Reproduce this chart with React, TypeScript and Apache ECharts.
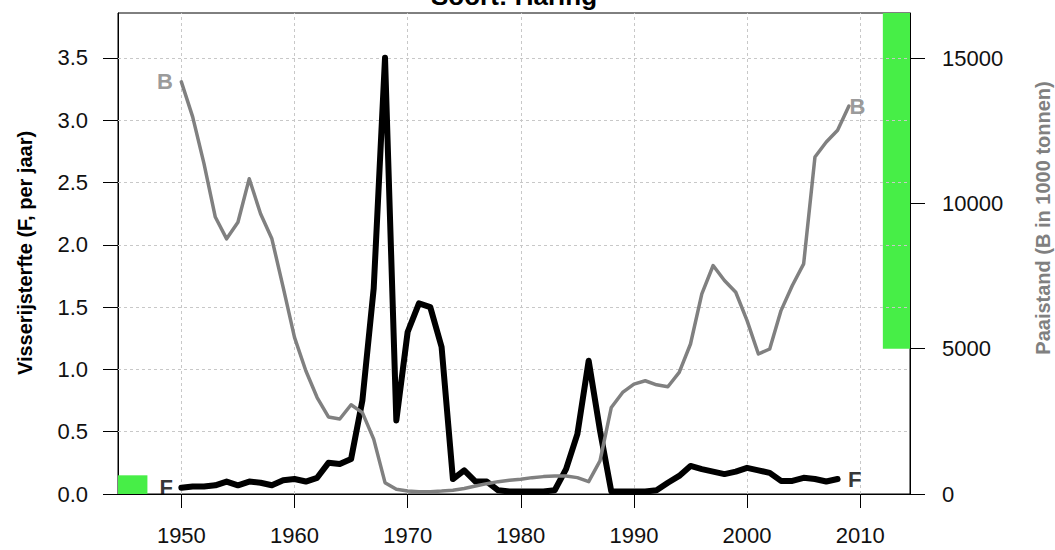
import React, { useEffect, useRef } from "react";
import * as echarts from "echarts";

const TITLE = "Soort: Haring";
const LEFT_NAME = "Visserijsterfte (F, per jaar)";
const RIGHT_NAME = "Paaistand (B in 1000 tonnen)";

const START_YEAR = 1950;

// Fishing mortality F (per year), 1950-2008
const fValues = [
  0.05, 0.06, 0.06, 0.07, 0.1, 0.07, 0.1, 0.09, 0.07, 0.11,
  0.12, 0.1, 0.13, 0.25, 0.24, 0.28, 0.75, 1.65, 3.5, 0.59,
  1.3, 1.53, 1.5, 1.18, 0.12, 0.19, 0.1, 0.1, 0.03, 0.02,
  0.02, 0.02, 0.02, 0.03, 0.2, 0.48, 1.07, 0.51, 0.02, 0.02,
  0.02, 0.02, 0.03, 0.09, 0.145, 0.225, 0.2, 0.18, 0.16, 0.18,
  0.21, 0.19, 0.17, 0.105, 0.105, 0.13, 0.12, 0.1, 0.12,
];

// Spawning stock biomass B (1000 t), 1950-2009
const bValues = [
  14180, 12975, 11370, 9530, 8780, 9350, 10850, 9640, 8780, 7110,
  5390, 4240, 3320, 2650, 2580, 3070, 2800, 1890, 390, 160,
  100, 80, 80, 100, 130, 190, 275, 356, 425, 471,
  506, 563, 598, 620, 620, 563, 425, 1138, 2977, 3494,
  3781, 3896, 3758, 3689, 4183, 5161, 6885, 7862, 7344, 6941,
  5965, 4817, 4989, 6310, 7172, 7920, 11595, 12113, 12516, 13350,
];

const xTicks = [1950, 1960, 1970, 1980, 1990, 2000, 2010];
const fTicks = [0, 0.5, 1, 1.5, 2, 2.5, 3, 3.5];
const bTicks = [0, 5000, 10000, 15000];

const X_MIN = 1944.4;
const X_MAX = 2014.4;
const F_MAX = 3.86;
const B_MAX = 16550;

const F_REF = 0.15;
const F_REF_X = [1944.4, 1947];
const B_REF = 5000;
const B_REF_X = [2012, 2014.4];

const FONT = "'Liberation Sans', Arial, sans-serif";

export default function App() {
  const ref = useRef<HTMLDivElement>(null);

  useEffect(() => {
    if (!ref.current) return;
    const chart = echarts.init(ref.current, null, { renderer: "svg" });

    const fData = fValues.map((v, i) => [START_YEAR + i, v]);
    const bData = bValues.map((v, i) => [START_YEAR + i, v]);
    const fLast = fData[fData.length - 1];
    const bLast = bData[bData.length - 1];

    const gridLines = [
      ...xTicks.map((x) => ({ xAxis: x })),
      ...fTicks.filter((v) => v > 0).map((v) => ({ yAxis: v })),
    ];

    const labelBase = {
      show: true,
      fontFamily: FONT,
      fontWeight: "bold" as const,
      fontSize: 22,
    };

    chart.setOption({
      animation: false,
      backgroundColor: "#fff",
      textStyle: { fontFamily: FONT },
      grid: {
        left: 118,
        top: 13,
        right: 145,
        bottom: 56,
        show: true,
        borderColor: "#000",
        borderWidth: 1,
        backgroundColor: "transparent",
      },
      graphic: [
        {
          type: "text",
          x: 514,
          y: -4,
          style: {
            text: TITLE,
            font: `bold 26px ${FONT}`,
            fill: "#000",
            align: "center",
            verticalAlign: "middle",
          },
        },
        {
          type: "text",
          x: 25,
          y: 253,
          rotation: Math.PI / 2,
          style: {
            text: LEFT_NAME,
            font: `bold 20px ${FONT}`,
            fill: "#000",
            align: "center",
            verticalAlign: "middle",
          },
        },
        {
          type: "text",
          x: 1043,
          y: 218,
          rotation: Math.PI / 2,
          style: {
            text: RIGHT_NAME,
            font: `bold 20px ${FONT}`,
            fill: "#808080",
            align: "center",
            verticalAlign: "middle",
          },
        },
      ],
      xAxis: {
        type: "value",
        min: X_MIN,
        max: X_MAX,
        axisLine: { show: true, onZero: false, lineStyle: { color: "#000", width: 1 } },
        axisTick: {
          show: true,
          length: 14,
          customValues: xTicks,
          lineStyle: { color: "#000", width: 1 },
        },
        axisLabel: {
          customValues: xTicks,
          margin: 30,
          fontSize: 22,
          color: "#111",
          fontFamily: FONT,
          formatter: (v: number) => String(v),
        },
        splitLine: { show: false },
      },
      yAxis: [
        {
          type: "value",
          min: 0,
          max: F_MAX,
          axisLine: { show: true, lineStyle: { color: "#000", width: 1 } },
          axisTick: {
            show: true,
            length: 15,
            customValues: fTicks,
            lineStyle: { color: "#000", width: 1 },
          },
          axisLabel: {
            customValues: fTicks,
            margin: 30,
            fontSize: 22,
            color: "#111",
            fontFamily: FONT,
            formatter: (v: number) => v.toFixed(1),
          },
          splitLine: { show: false },
        },
        {
          type: "value",
          min: 0,
          max: B_MAX,
          position: "right",
          axisLine: { show: true, lineStyle: { color: "#000", width: 1 } },
          axisTick: {
            show: true,
            length: 15,
            customValues: bTicks,
            lineStyle: { color: "#000", width: 1 },
          },
          axisLabel: {
            customValues: bTicks,
            margin: 32,
            fontSize: 22,
            color: "#111",
            fontFamily: FONT,
            formatter: (v: number) => String(v),
          },
          splitLine: { show: false },
        },
      ],
      series: [
        {
          type: "line",
          name: "F",
          yAxisIndex: 0,
          data: fData,
          showSymbol: false,
          symbol: "none",
          z: 3,
          lineStyle: { color: "#000", width: 6, join: "round", cap: "round" },
          markLine: {
            silent: true,
            z: 1,
            symbol: ["none", "none"],
            label: { show: false },
            lineStyle: { color: "#c8c8c8", width: 1, type: [3, 3] },
            data: gridLines,
          },
          markArea: {
            silent: true,
            z: 1,
            itemStyle: { color: "#47ee47" },
            data: [[{ xAxis: F_REF_X[0], yAxis: 0 }, { xAxis: F_REF_X[1], yAxis: F_REF }]],
          },
        },
        {
          type: "line",
          name: "B",
          yAxisIndex: 1,
          data: bData,
          showSymbol: false,
          symbol: "none",
          z: 4,
          lineStyle: { color: "#808080", width: 3.5, join: "round", cap: "round" },
          markArea: {
            silent: true,
            z: 1,
            itemStyle: { color: "#47ee47" },
            data: [[{ xAxis: B_REF_X[0], yAxis: B_REF }, { xAxis: B_REF_X[1], yAxis: B_MAX }]],
          },
        },
        {
          type: "scatter",
          yAxisIndex: 0,
          symbolSize: 1,
          silent: true,
          z: 5,
          itemStyle: { color: "rgba(0,0,0,0)" },
          label: { ...labelBase, color: "#000", formatter: "F", position: "left", distance: 8 },
          data: [
            { value: fData[0] },
            { value: fLast, label: { position: "right", distance: 10 } },
          ],
        },
        {
          type: "scatter",
          yAxisIndex: 1,
          symbolSize: 1,
          silent: true,
          z: 5,
          itemStyle: { color: "rgba(0,0,0,0)" },
          label: { ...labelBase, color: "#808080", formatter: "B", position: "left", distance: 8 },
          data: [
            { value: bData[0] },
            { value: bLast, label: { position: "right", distance: 0 } },
          ],
        },
      ],
    });

    return () => chart.dispose();
  }, []);

  return (
    <div
      ref={ref}
      style={{ position: "absolute", left: 0, top: 0, width: 1055, height: 550 }}
    />
  );
}
